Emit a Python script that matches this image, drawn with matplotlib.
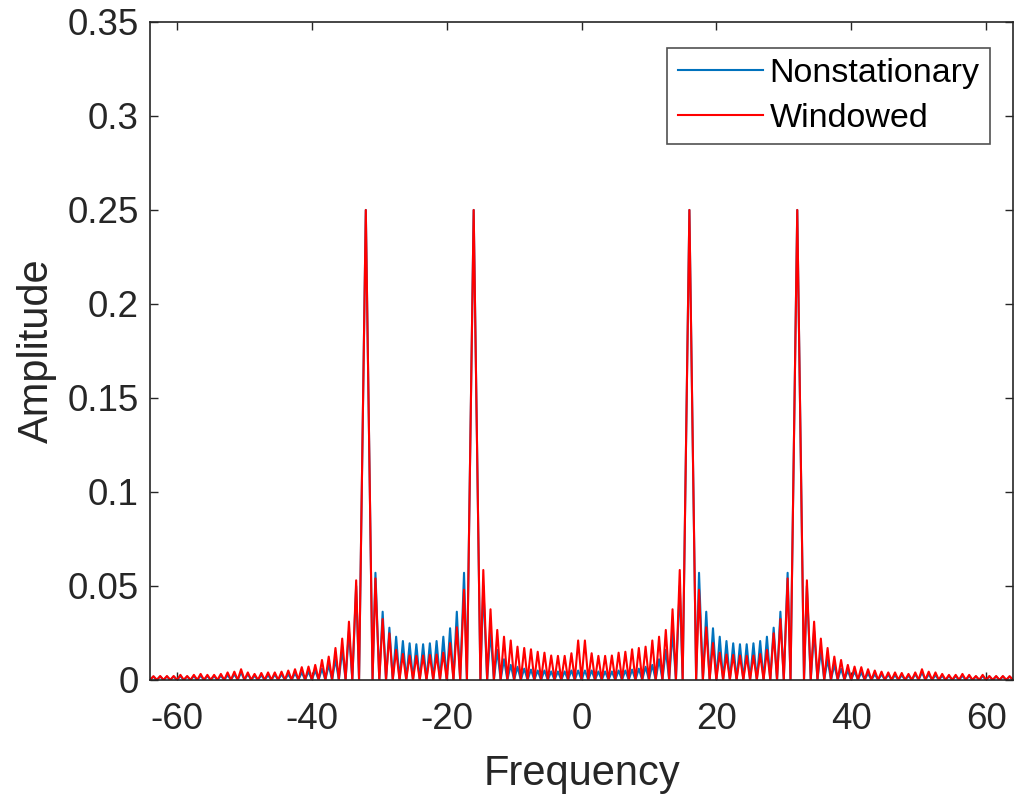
import numpy as np
import matplotlib.pyplot as plt

# lobe peak positions on the positive half (Hz); zeros sit on the integers
lobe_freq = np.concatenate([np.arange(0.5, 14, 1.0), [14.57, 16, 17.43],
                            np.arange(18.5, 30, 1.0), [30.57, 32, 33.43],
                            np.arange(34.5, 64, 1.0)])
null_freq = np.array([k for k in range(0, 65) if k not in (16, 32)], dtype=float)

# amplitudes (positive half, spectrum is symmetric)
nonstat_amp = [0.005, 0.005, 0.0045, 0.0045, 0.0045, 0.005, 0.005, 0.0055, 0.006, 0.007,
               0.008, 0.011, 0.016, 0.026,
               0.05, 0.25, 0.057,
               0.0363, 0.0275, 0.023, 0.0207, 0.0195, 0.019, 0.019, 0.0195, 0.0207, 0.023,
               0.0278, 0.0363,
               0.057, 0.25, 0.05,
               0.026, 0.016, 0.011, 0.008, 0.006, 0.005, 0.0045, 0.004, 0.0035, 0.003,
               0.003, 0.0028, 0.0025, 0.0025, 0.0022, 0.003, 0.004, 0.003, 0.0025, 0.0022,
               0.002, 0.002, 0.0022, 0.002, 0.0018, 0.002, 0.0018, 0.0018, 0.0018, 0.0018]
window_amp = [0.021, 0.0142, 0.0128, 0.0128, 0.013, 0.0145, 0.015, 0.0163, 0.017, 0.0177,
              0.021, 0.023, 0.0266, 0.0376,
              0.0585, 0.25, 0.048,
              0.028, 0.0196, 0.0145, 0.0135, 0.0133, 0.013, 0.0128, 0.013, 0.0138, 0.016,
              0.0248, 0.0324,
              0.054, 0.25, 0.053,
              0.031, 0.022, 0.017, 0.0124, 0.0106, 0.008, 0.0071, 0.0068, 0.0057, 0.005,
              0.0044, 0.004, 0.004, 0.0037, 0.0032, 0.004, 0.0057, 0.0044, 0.004, 0.0032,
              0.0027, 0.0027, 0.0032, 0.0027, 0.0021, 0.0027, 0.0021, 0.0021, 0.0021, 0.002]

series_names = ['Nonstationary', 'Windowed']
series_colors = ['#0072BD', '#FF0000']


def full_spectrum(amps):
    f = np.concatenate([null_freq, lobe_freq])
    a = np.concatenate([np.zeros(len(null_freq)), amps])
    idx = np.argsort(f)
    f, a = f[idx], a[idx]
    # mirror onto the negative frequencies
    return np.concatenate([-f[:0:-1], f]), np.concatenate([a[:0:-1], a])


plt.rcParams['font.family'] = ['Liberation Sans', 'DejaVu Sans']
plt.rcParams['axes.unicode_minus'] = False
fig = plt.figure(figsize=(10.14, 7.99), dpi=100)
ax = fig.add_axes([0.148, 0.149, 0.851, 0.8235])

for amps, name, col in zip([nonstat_amp, window_amp], series_names, series_colors):
    x, y = full_spectrum(np.array(amps))
    ax.plot(x, y, color=col, lw=1.5, label=name)

ax.set_xlim(-64, 64)
ax.set_ylim(0, 0.35)
ax.set_xticks([-60, -40, -20, 0, 20, 40, 60])
ax.set_yticks(np.arange(0, 0.351, 0.05))
ax.set_yticklabels(['0', '0.05', '0.1', '0.15', '0.2', '0.25', '0.3', '0.35'])
ax.tick_params(direction='in', length=6, width=1.0, labelsize=26.5, colors='#262626',
               top=True, right=True, pad=8)
ax.tick_params(axis='x', pad=16)
for s in ax.spines.values():
    s.set_color('#262626')
    s.set_linewidth(1.2)

ax.set_xlabel('Frequency', fontsize=30, color='#262626', labelpad=12)
ax.set_ylabel('Amplitude', fontsize=30, color='#262626', labelpad=8)

leg = ax.legend(loc='upper right', bbox_to_anchor=(0.976, 0.94),
                bbox_transform=fig.transFigure, fontsize=24.5, frameon=True,
                fancybox=False, handlelength=2.5, handletextpad=0.2,
                labelspacing=0.4, borderpad=0.3, borderaxespad=0)
leg.get_frame().set_edgecolor('#262626')
leg.get_frame().set_linewidth(1.2)

fig.savefig('out.png', dpi=100)
